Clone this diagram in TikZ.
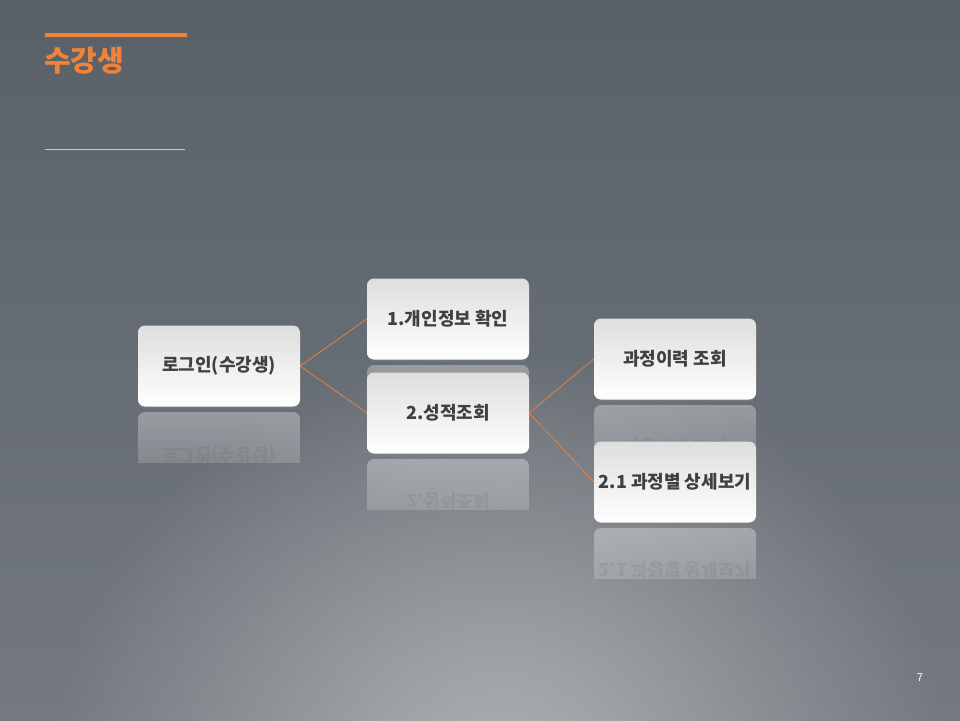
\documentclass[tikz,border=0pt]{standalone}
\usepackage{fontspec}
\setmainfont{Noto Sans CJK KR}
\usetikzlibrary{shadows,fadings}
\definecolor{slideorange}{HTML}{F0823A}
\definecolor{bgtop}{HTML}{596068}
\definecolor{bgbottom}{HTML}{747980}
\definecolor{bgglow}{HTML}{AEB0B3}
\definecolor{boxtop}{HTML}{DEDEDE}
\definecolor{boxtext}{HTML}{404040}
\tikzfading[name=reflfade, top color=transparent!0, bottom color=transparent!45]
\tikzfading[name=glowfade, inner color=transparent!0, outer color=transparent!100]
\tikzset{
  boxfont/.style={font=\fontsize{18}{21}\selectfont\bfseries},
  stepbox/.style={rounded corners=7pt, minimum width=162pt, minimum height=81pt,
    top color=boxtop, bottom color=white, text=boxtext, boxfont,
    drop shadow={opacity=.45, shadow xshift=0pt, shadow yshift=-2pt}},
  link/.style={draw=slideorange, line width=.7pt},
}
\begin{document}
\begin{tikzpicture}[x=1pt,y=-1pt]
\useasboundingbox (0,0) rectangle (960,720);
% background
\shade[top color=bgtop, bottom color=bgbottom] (0,0) rectangle (960,720);
\begin{scope}
\clip (0,0) rectangle (960,720);
\fill[bgglow, path fading=glowfade] (500,770) ellipse (450 and 420);
\end{scope}
% title
\draw[slideorange, line width=4pt] (45,35) -- (187,35);
\node[anchor=west, inner sep=0pt, text=slideorange, font=\fontsize{29}{32}\selectfont\bfseries] (title) at (44,61) {수강생};
\draw[bgbottom!40!white, line width=.8pt] (45,149) -- (185,149);
\node[text=white, font=\fontsize{11}{13}\selectfont] (page) at (920,678) {7};
% reflections
\foreach \cx/\cy/\lbl in {219/366/로그인(수강생), 448/319/1.개인정보 확인, 448/413/2.성적조회, 675/359/과정이력 조회, 675/482/2.1 과정별 상세보기} {
  \begin{scope}
  \clip (\cx-81,\cy+46) rectangle (\cx+81,\cy+96);
  \path[scope fading=reflfade, fit fading=true] (\cx-81,\cy+46) rectangle (\cx+81,\cy+96);
  \fill[white, opacity=.32, rounded corners=7pt] (\cx-81,\cy+46) rectangle (\cx+81,\cy+127);
  \node[text=boxtext, opacity=.15, yscale=-1, transform shape, boxfont] at (\cx,\cy+88) {\lbl};
  \end{scope}
}
% boxes
\node[stepbox] (login) at (219,366) {로그인(수강생)};
\node[stepbox] (info) at (448,319) {1.개인정보 확인};
\node[stepbox] (grade) at (448,413) {2.성적조회};
\node[stepbox] (history) at (675,359) {과정이력 조회};
\node[stepbox] (detail) at (675,482) {2.1 과정별 상세보기};
% connectors
\draw[link] (login.east) -- (info.west);
\draw[link] (login.east) -- (grade.west);
\draw[link] (grade.east) -- (history.west);
\draw[link] (grade.east) -- (detail.west);
\end{tikzpicture}
\end{document}
